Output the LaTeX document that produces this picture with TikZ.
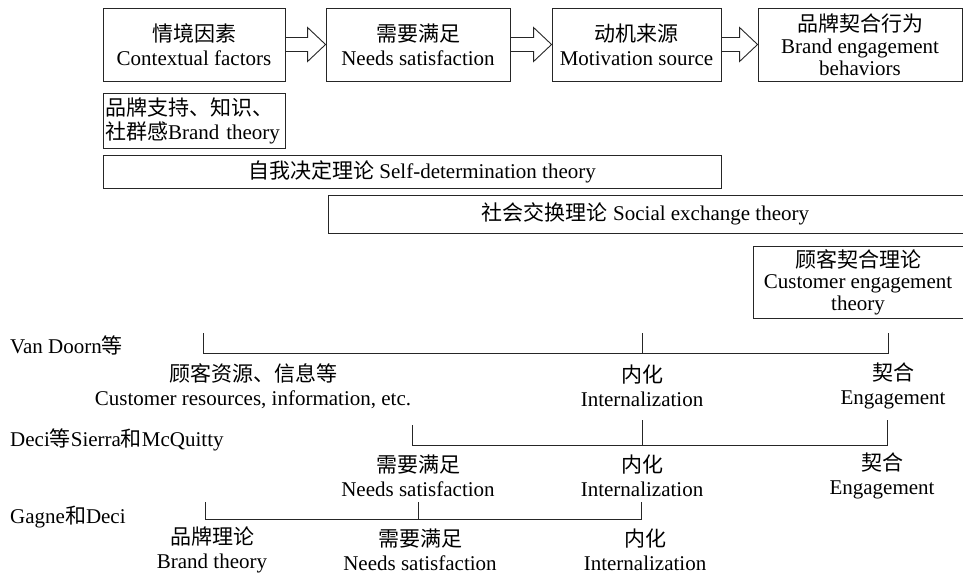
\documentclass[tikz,border=0pt]{standalone}
\usepackage{fontspec}
\setmainfont{Liberation Serif}
\newfontfamily\cjk{Noto Sans CJK SC}
\newcommand\zh[1]{{\cjk #1}}
\usetikzlibrary{positioning,calc}

\newcommand\blockarrow[2]{%
  \draw[frame] ($(#1.east)+(0,-7)$) -- ($(#2.west)+(-18,-7)$) -- ($(#2.west)+(-18,-17)$)
    -- (#2.west) -- ($(#2.west)+(-18,17)$) -- ($(#2.west)+(-18,7)$) -- ($(#1.east)+(0,7)$);}

\begin{document}
\begin{tikzpicture}[x=1pt, y=-1pt,
        frame/.style={draw=black!85, line width=0.9pt},
        box/.style={frame, align=center, inner sep=2pt, font=\fontsize{21}{24}\selectfont},
        lab/.style={align=center, inner sep=0pt, font=\fontsize{21}{24}\selectfont},
        rowname/.style={anchor=west, inner sep=0pt, font=\fontsize{21}{24}\selectfont}]
        \useasboundingbox (0,0) rectangle (963,576);
        % top chain
        \node[box, minimum width=182pt, minimum height=73pt] (ctx) at (194,44.5) {\zh{情境因素}\\Contextual factors};
        \node[box, minimum width=184pt, minimum height=73pt] (need) at (418,44.5) {\zh{需要满足}\\Needs satisfaction};
        \node[box, minimum width=169pt, minimum height=73pt] (motiv) at (636.5,44.5) {\zh{动机来源}\\Motivation source};
        \node[box, minimum width=204pt, minimum height=73pt, font=\fontsize{21}{22}\selectfont] (beh) at (860,44.5) {\zh{品牌契合行为}\\Brand engagement\\behaviors};
        \foreach \a/\b in {ctx/need, need/motiv, motiv/beh}
          \blockarrow{\a}{\b};
        % theories
        \node[box, align=left, text width=178pt, minimum height=55pt] (brand) at (194,120.5) {\zh{品牌支持、知识、}\\\zh{社群感}Brand theory};
        \node[box, minimum width=618pt, minimum height=33pt] (sdt) at (412,171.5) {\hspace{20pt}\zh{自我决定理论} Self-determination theory};
        \node[box, minimum width=635pt, minimum height=38pt] (set) at (645.5,214) {\zh{社会交换理论} Social exchange theory};
        \node[box, minimum width=210pt, minimum height=72pt, font=\fontsize{21}{21.5}\selectfont] (cet) at (858,282) {\zh{顾客契合理论}\\Customer engagement\\theory};
        % Van Doorn
        \node[rowname] (vd) at (10,345) {Van Doorn\zh{等}};
        \coordinate (vda) at (203,333);
        \coordinate (vdb) at (642,333);
        \coordinate (vdc) at (888,333);
        \draw[frame] (vda) -- ++(0,20) -| (vdc);
        \draw[frame] (vdb) -- ++(0,20);
        \node[lab] (vd1) at (253,386) {\zh{顾客资源、信息等}\\Customer resources, information, etc.};
        \node[lab] (vd2) at (642,386) {\zh{内化}\\Internalization};
        \node[lab] (vd3) at (893,386) {\zh{契合}\\Engagement};
        % Deci, Sierra and McQuitty
        \node[rowname] (dc) at (10,440) {Deci\zh{等}Sierra\zh{和}McQuitty};
        \coordinate (dca) at (412,425);
        \coordinate (dcb) at (642,420);
        \coordinate (dcc) at (887,420);
        \draw[frame] (dca) -- ++(0,20) -| (dcc);
        \draw[frame] (dcb) -- ++(0,25);
        \node[lab] (dc1) at (418,476) {\zh{需要满足}\\Needs satisfaction};
        \node[lab] (dc2) at (642,476) {\zh{内化}\\Internalization};
        \node[lab] (dc3) at (882,476) {\zh{契合}\\Engagement};
        % Gagne and Deci
        \node[rowname] (gd) at (10,517) {Gagne\zh{和}Deci};
        \coordinate (gda) at (205,502);
        \coordinate (gdb) at (418,502);
        \coordinate (gdc) at (641,502);
        \draw[frame] (gda) -- ++(0,17) -| (gdc);
        \draw[frame] (gdb) -- ++(0,17);
        \node[lab] (gd1) at (212,550) {\zh{品牌理论}\\Brand theory};
        \node[lab] (gd2) at (420,550) {\zh{需要满足}\\Needs satisfaction};
        \node[lab] (gd3) at (645,550) {\zh{内化}\\Internalization};
\end{tikzpicture}
\end{document}
